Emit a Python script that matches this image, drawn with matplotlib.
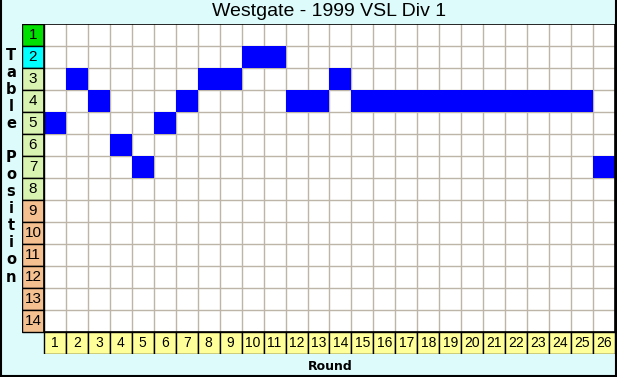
import matplotlib
matplotlib.use("Agg")
import matplotlib.pyplot as plt
from matplotlib.patches import Rectangle
import numpy as np

title = "Westgate - 1999 VSL Div 1"
rounds = list(range(1, 27))
positions = [5, 3, 4, 6, 7, 5, 4, 3, 3, 2, 2, 4, 4, 3, 4, 4, 4, 4, 4, 4, 4, 4, 4, 4, 4, 7]
n_teams = 14
ylabel = "Table Position"
xlabel = "Round"

W, H = 617, 377
bg = "#DDFBFB"
fig = plt.figure(figsize=(W / 100, H / 100), dpi=100, facecolor=bg)

# axes spanning row-label column + grid + column-label row
left_px, right_px, top_px, bot_px = 22, 615, 24, 354
ax = fig.add_axes([left_px / W, 1 - bot_px / H, (right_px - left_px) / W, (bot_px - top_px) / H])
ax.set_xlim(-1, len(rounds))
ax.set_ylim(n_teams + 1, 0)
ax.axis("off")

# white grid area
ax.add_patch(Rectangle((0, 0), len(rounds), n_teams, facecolor="white", edgecolor="none", zorder=0))
for x in range(1, len(rounds)):
    ax.plot([x, x], [0, n_teams], color="#BDB5A8", lw=1, zorder=1)
for y in range(1, n_teams):
    ax.plot([0, len(rounds)], [y, y], color="#BDB5A8", lw=1, zorder=1)

# blue cells
ax.bar(np.array(rounds) - 0.5, 1, bottom=np.array(positions) - 1, width=1,
       color="#0000FF", edgecolor="none", zorder=2)

# row label cells
def row_color(p):
    if p == 1:
        return "#00E000"
    if p == 2:
        return "#00FFFF"
    if p <= 8:
        return "#D8F4B0"
    return "#F4C090"

for p in range(1, n_teams + 1):
    ax.add_patch(Rectangle((-1, p - 1), 1, 1, facecolor=row_color(p), edgecolor="black", lw=1, zorder=3))
    ax.text(-0.5, p - 0.5, str(p), ha="center", va="center", fontsize=11,
            family="Liberation Sans", zorder=4)

# column label cells
for r in rounds:
    ax.add_patch(Rectangle((r - 1, n_teams), 1, 1, facecolor="#FFFF99", edgecolor="black", lw=1, zorder=3))
    ax.text(r - 0.5, n_teams + 0.5, str(r), ha="center", va="center", fontsize=10,
            family="Liberation Sans", zorder=4)

# grid border
ax.add_patch(Rectangle((0, 0), len(rounds), n_teams, facecolor="none", edgecolor="black", lw=1.2, zorder=5))

# title
fig.text(329 / W, 1 - 12 / H, title, ha="center", va="center", fontsize=14, family="Liberation Sans")

# vertical y label
y0, step = 55, 17.08
for i, ch in enumerate(ylabel):
    if ch != " ":
        fig.text(11 / W, 1 - (y0 + i * step) / H, ch, ha="center", va="center",
                 fontsize=10.5, fontweight="bold", family="DejaVu Sans")

fig.text(330 / W, 1 - 366 / H, xlabel, ha="center", va="center", fontsize=9,
         fontweight="bold", family="DejaVu Sans")

# figure border (left, right, bottom)
fig.add_artist(plt.Line2D([0.5 / W, 0.5 / W], [0, 1], color="black", lw=1.5, transform=fig.transFigure))
fig.add_artist(plt.Line2D([1 - 1 / W, 1 - 1 / W], [0, 1], color="black", lw=1.5, transform=fig.transFigure))
fig.add_artist(plt.Line2D([0, 1], [0.8 / H, 0.8 / H], color="black", lw=1.5, transform=fig.transFigure))

fig.savefig("out.png", dpi=100, facecolor=bg)
